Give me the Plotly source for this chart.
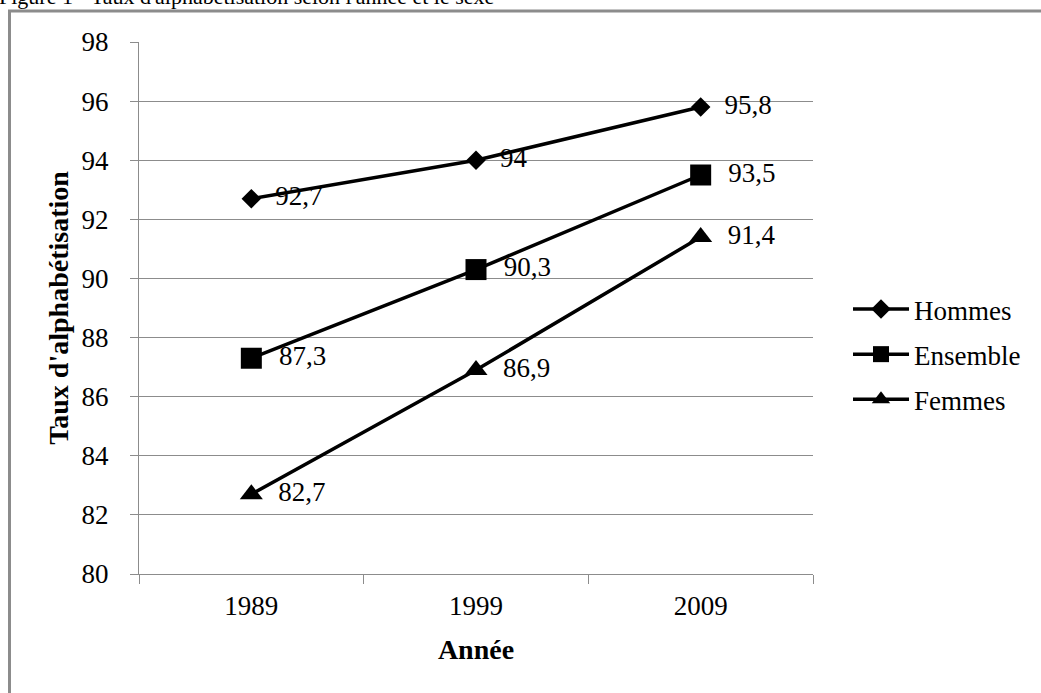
import plotly.graph_objects as go

years = ["1989", "1999", "2009"]
hommes = [92.7, 94.0, 95.8]
ensemble = [87.3, 90.3, 93.5]
femmes = [82.7, 86.9, 91.4]
series_names = ["Hommes", "Ensemble", "Femmes"]
y_ticks = [80, 82, 84, 86, 88, 90, 92, 94, 96, 98]


def fr(v):
    return ("%g" % v).replace(".", ",")


FONT = "Liberation Serif, Times New Roman, serif"
GRAY = "#8c8c8c"
fig = go.Figure()
symbols = ["diamond", "square", "triangle-up"]
sizes = [15, 21, 20]
for i, (name, vals) in enumerate(zip(series_names, [hommes, ensemble, femmes])):
    fig.add_trace(go.Scatter(
        x=years, y=vals, name=name, mode="lines+markers+text",
        text=["  " + fr(v) for v in vals], textposition="middle right",
        textfont=dict(family=FONT, size=27, color="black"),
        line=dict(color="black", width=3.5),
        marker=dict(symbol=symbols[i], size=sizes[i], color="black"),
        legendgroup=name, cliponaxis=False,
    ))

W, H = 1041, 693
L, R, T, B = 139, 228, 42, 119
pw, ph = W - L - R, H - T - B

fig.update_layout(
    width=W, height=H, margin=dict(l=L, r=R, t=T, b=B),
    paper_bgcolor="white", plot_bgcolor="white",
    font=dict(family=FONT, size=27, color="black"),
    showlegend=True,
    legend=dict(x=(848 - L) / pw, y=1 - (285 - T) / ph, xanchor="left", yanchor="top",
                font=dict(family=FONT, size=27), itemwidth=56, tracegroupgap=7,
                traceorder="grouped", bgcolor="rgba(0,0,0,0)"),
    xaxis=dict(type="category", range=[-0.5, 2.5], showline=True, linecolor=GRAY, linewidth=1,
               ticks="outside", tickson="boundaries", ticklen=9, tickcolor=GRAY,
               showgrid=False, tickfont=dict(family=FONT, size=27), ticklabelstandoff=8,
               title=dict(text="<b>Année</b>", font=dict(family=FONT, size=28), standoff=18)),
    yaxis=dict(range=[80, 98], tickvals=y_ticks, showline=True, linecolor=GRAY, linewidth=1,
               ticks="outside", ticklen=8, tickcolor=GRAY, showgrid=True, gridcolor=GRAY,
               gridwidth=1, zeroline=False, tickfont=dict(family=FONT, size=27),
               ticklabelstandoff=16,
               title=dict(text="<b>Taux d'alphabétisation</b>", font=dict(family=FONT, size=28), standoff=4)),
)

fig.add_shape(type="rect", xref="paper", yref="paper",
              x0=(9.5 - L) / pw, x1=2, y0=-1, y1=1 + (T - 11) / ph,
              line=dict(color=GRAY, width=3), fillcolor="rgba(0,0,0,0)", layer="below")

fig.add_annotation(text="Figure 1 - Taux d'alphabétisation selon l'année et le sexe",
                   xref="paper", yref="paper", x=(-3 - L) / pw, y=1 + (T - 11) / ph,
                   xanchor="left", yanchor="bottom", showarrow=False,
                   font=dict(family=FONT, size=22, color="black"))

fig.write_html("out.html", config={"displayModeBar": False},
               post_script="document.body.style.margin='0';document.body.style.overflow='hidden';")
